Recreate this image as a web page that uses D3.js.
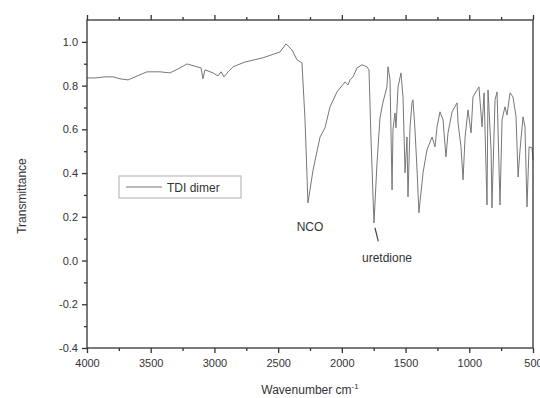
<!DOCTYPE html>
<html>
<head>
<meta charset="utf-8">
<script src="https://cdn.jsdelivr.net/npm/d3@7"></script>
<style>
  body { margin: 0; background: #fff; }
  svg text { font-family: "Liberation Sans", Arial, sans-serif; fill: #333; }
</style>
</head>
<body>
<svg id="chart" width="540" height="398"></svg>
<script>
// IR spectrum of TDI dimer
const wavenumbers = [
  4000, 3937, 3859, 3796, 3741, 3678, 3623, 3529, 3427, 3349, 3270, 3215, 3137, 3105, 3090, 3074,
  3011, 2972, 2948, 2925, 2893, 2854, 2760, 2619, 2485, 2438, 2391, 2352, 2313, 2289, 2266, 2226,
  2171, 2132, 2093, 2038, 1975, 1952, 1936, 1912, 1881, 1842, 1803, 1787, 1771, 1748, 1724, 1701,
  1677, 1646, 1638, 1622, 1606, 1599, 1583, 1575, 1559, 1536, 1520, 1504, 1489, 1481, 1465, 1449,
  1442, 1426, 1410, 1395, 1363, 1332, 1292, 1269, 1253, 1230, 1206, 1183, 1167, 1135, 1096, 1088,
  1065, 1049, 1033, 1010, 986, 971, 939, 924, 900, 884, 861, 853, 829, 822, 798, 782,
  759, 743, 720, 704, 680, 657, 633, 617, 602, 578, 563, 547, 531, 508, 500
];
const transmittance = [
  0.835, 0.835, 0.840, 0.840, 0.831, 0.826, 0.840, 0.863, 0.863, 0.858, 0.881, 0.899, 0.886, 0.881, 0.831, 0.872,
  0.858, 0.844, 0.863, 0.840, 0.863, 0.886, 0.908, 0.927, 0.954, 0.991, 0.963, 0.918, 0.904, 0.643, 0.263, 0.414,
  0.565, 0.607, 0.703, 0.771, 0.817, 0.803, 0.826, 0.840, 0.881, 0.895, 0.886, 0.872, 0.552, 0.172, 0.446, 0.652,
  0.725, 0.794, 0.886, 0.826, 0.323, 0.597, 0.675, 0.607, 0.794, 0.858, 0.748, 0.401, 0.565, 0.291, 0.611, 0.725,
  0.735, 0.597, 0.414, 0.218, 0.401, 0.506, 0.565, 0.520, 0.611, 0.680, 0.643, 0.474, 0.584, 0.680, 0.721, 0.629,
  0.520, 0.369, 0.565, 0.689, 0.584, 0.748, 0.780, 0.794, 0.611, 0.767, 0.254, 0.780, 0.506, 0.241, 0.735, 0.771,
  0.254, 0.643, 0.703, 0.666, 0.767, 0.748, 0.657, 0.382, 0.506, 0.657, 0.611, 0.245, 0.520, 0.515, 0.460
];
const xMajorTicks = [4000, 3500, 3000, 2500, 2000, 1500, 1000, 500];
const xMinorTicks = [3750, 3250, 2750, 2250, 1750, 1250, 750];
const yMajorTicks = [-0.4, -0.2, 0.0, 0.2, 0.4, 0.6, 0.8, 1.0];
const yMinorTicks = [-0.3, -0.1, 0.1, 0.3, 0.5, 0.7, 0.9];
const seriesName = "TDI dimer";
const xTitle = "Wavenumber cm";
const yTitle = "Transmittance";

const W = 540, H = 398;
const margin = { left: 87, right: 7, top: 20, bottom: 50 };
const width = W - margin.left - margin.right;
const height = H - margin.top - margin.bottom;

const svg = d3.select('#chart');
const g = svg.append('g').attr('transform', `translate(${margin.left}, ${margin.top})`);

const x = d3.scaleLinear().domain([4000, 500]).range([0, width]);
const y = d3.scaleLinear().domain([-0.4, 1.1]).range([height, 0]);

const axisColor = '#333';

// spectrum
const data = wavenumbers.map((w, i) => [w, transmittance[i]]);
g.append('path')
  .datum(data)
  .attr('fill', 'none')
  .attr('stroke', '#777')
  .attr('stroke-width', 1)
  .attr('stroke-linejoin', 'round')
  .attr('d', d3.line().x(d => x(d[0])).y(d => y(d[1])));

// frame
g.append('rect')
  .attr('width', width).attr('height', height)
  .attr('fill', 'none').attr('stroke', axisColor).attr('stroke-width', 1.3);

function styleAxis(sel) {
  sel.select('.domain').remove();
  sel.selectAll('line').attr('stroke', axisColor).attr('stroke-width', 1.3);
  sel.selectAll('text').attr('font-size', 11).attr('fill', '#333');
}

// bottom axis
g.append('g').attr('transform', `translate(0, ${height})`)
  .call(d3.axisBottom(x).tickValues(xMajorTicks).tickSize(5).tickPadding(6).tickFormat(d3.format('d')))
  .call(styleAxis);
g.append('g').attr('transform', `translate(0, ${height})`)
  .call(d3.axisBottom(x).tickValues(xMinorTicks).tickSize(3).tickFormat(''))
  .call(styleAxis);

// top axis
g.append('g')
  .call(d3.axisTop(x).tickValues(xMajorTicks).tickSize(5).tickFormat(''))
  .call(styleAxis);
g.append('g')
  .call(d3.axisTop(x).tickValues(xMinorTicks).tickSize(3).tickFormat(''))
  .call(styleAxis);

// left axis
g.append('g')
  .call(d3.axisLeft(y).tickValues(yMajorTicks).tickSize(5).tickPadding(4).tickFormat(d => d.toFixed(1)))
  .call(styleAxis);
g.append('g')
  .call(d3.axisLeft(y).tickValues(yMinorTicks).tickSize(3).tickFormat(''))
  .call(styleAxis);

// axis titles
const xt = svg.append('text')
  .attr('x', margin.left + width / 2)
  .attr('y', 394)
  .attr('text-anchor', 'middle')
  .attr('font-size', 12);
xt.append('tspan').text(xTitle);
xt.append('tspan').attr('dy', -5).attr('font-size', 8).text('-1');

svg.append('text')
  .attr('transform', `translate(26, ${margin.top + height / 2 + 12}) rotate(-90)`)
  .attr('text-anchor', 'middle')
  .attr('font-size', 12)
  .text(yTitle);

// annotations
g.append('text')
  .attr('x', x(2250)).attr('y', y(0.135))
  .attr('text-anchor', 'middle')
  .attr('font-size', 12)
  .text('NCO');
g.append('text')
  .attr('x', x(1842)).attr('y', y(-0.005))
  .attr('font-size', 12)
  .text('uretdione');
g.append('line')
  .attr('x1', x(1740)).attr('y1', y(0.149))
  .attr('x2', x(1714)).attr('y2', y(0.088))
  .attr('stroke', '#444').attr('stroke-width', 1.2);

// legend
const legend = svg.append('g').attr('transform', 'translate(119, 176)');
legend.append('rect')
  .attr('width', 122).attr('height', 22)
  .attr('fill', '#fff').attr('stroke', '#bbb').attr('stroke-width', 1.2);
legend.append('line')
  .attr('x1', 7).attr('x2', 43).attr('y1', 11).attr('y2', 11)
  .attr('stroke', '#777').attr('stroke-width', 1);
legend.append('text')
  .attr('x', 48).attr('y', 15.5)
  .attr('font-size', 12)
  .text(seriesName);
</script>
</body>
</html>
